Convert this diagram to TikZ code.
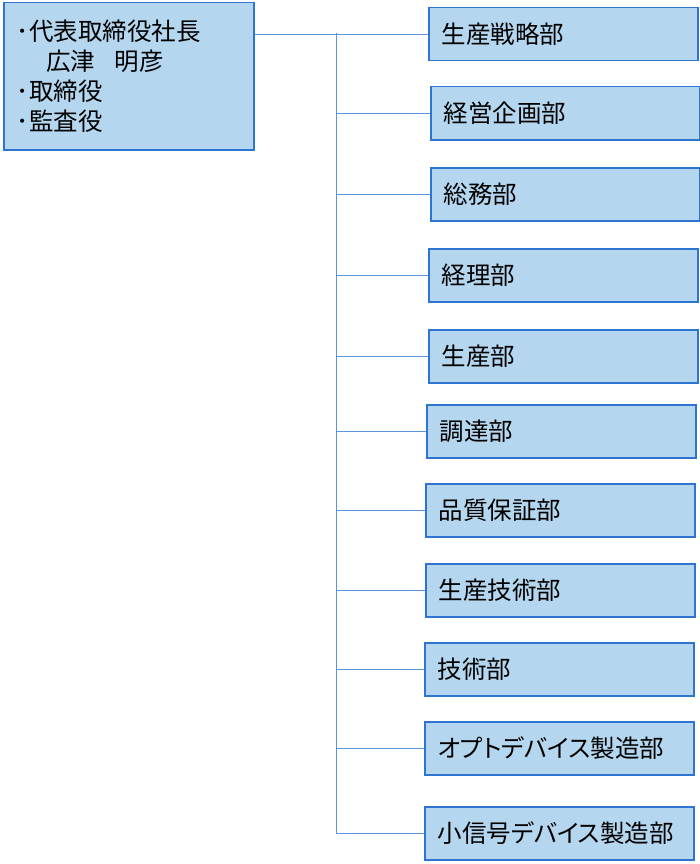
\documentclass[tikz,border=0pt]{standalone}
\usepackage{fontspec}
\setmainfont[RawFeature=+palt]{Noto Sans CJK JP}
\usetikzlibrary{positioning,calc}
\definecolor{boxfill}{HTML}{B4D6EE}
\definecolor{boxline}{HTML}{2F74D0}
\definecolor{wire}{HTML}{5A95DE}
\tikzset{dept/.style={draw=boxline,fill=boxfill,line width=1.5pt,anchor=north west,minimum height=53pt,text width=243pt,inner xsep=13pt,align=left,font=\fontsize{24.5}{28}\selectfont},
  head/.style={dept,minimum height=147pt,text width=224pt,font=\fontsize{24.5}{30}\selectfont},
  wire/.style={draw=wire,line width=0.9pt}}
\begin{document}
\begin{tikzpicture}[x=1pt,y=-1pt]
\useasboundingbox (0,0) rectangle (700,864);
\node[head] (top) at (3,2) {･代表取締役社長\\\hspace*{1.2em}広津\hspace{0.8em}明彦\\･取締役\\･監査役};
\node[dept] (senryaku) at (428,7) {生産戦略部};
\node[dept] (kikaku) at (430,86) {経営企画部};
\node[dept] (somu) at (430,167) {総務部};
\node[dept] (keiri) at (428,248) {経理部};
\node[dept] (seisan) at (428,329) {生産部};
\node[dept] (chotatsu) at (426,404) {調達部};
\node[dept] (hinsho) at (425,483) {品質保証部};
\node[dept] (seigi) at (425,563) {生産技術部};
\node[dept] (gijutsu) at (424,642) {技術部};
\node[dept] (opto) at (424,721) {オプトデバイス製造部};
\node[dept] (shoshin) at (424,806) {小信号デバイス製造部};
\coordinate (bus) at (336,33);
% trunk
\draw[wire] (top.east |- senryaku.west) -- (senryaku.west);
\draw[wire] (bus) -- (bus |- shoshin.west);
% branches
\draw[wire] (bus |- kikaku.west) -- (kikaku.west);
\draw[wire] (bus |- somu.west) -- (somu.west);
\draw[wire] (bus |- keiri.west) -- (keiri.west);
\draw[wire] (bus |- seisan.west) -- (seisan.west);
\draw[wire] (bus |- chotatsu.west) -- (chotatsu.west);
\draw[wire] (bus |- hinsho.west) -- (hinsho.west);
\draw[wire] (bus |- seigi.west) -- (seigi.west);
\draw[wire] (bus |- gijutsu.west) -- (gijutsu.west);
\draw[wire] (bus |- opto.west) -- (opto.west);
\draw[wire] (bus |- shoshin.west) -- (shoshin.west);
\end{tikzpicture}
\end{document}
